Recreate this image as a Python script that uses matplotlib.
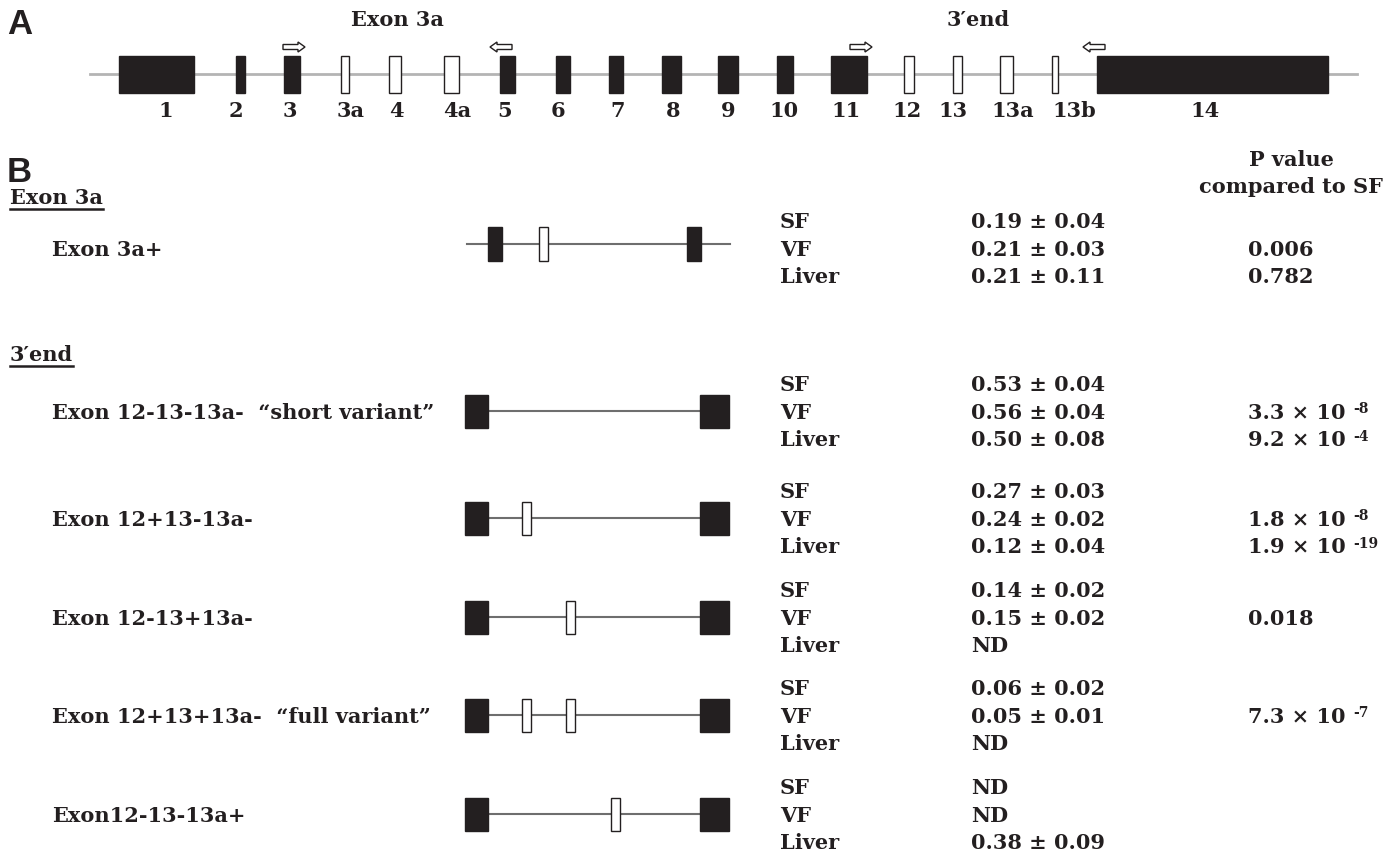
import matplotlib
matplotlib.use("Agg")
import matplotlib.pyplot as plt
from matplotlib.patches import Rectangle, FancyArrow

# ---- panel A: exon map ----
exon_names = ['1', '2', '3', '3a', '4', '4a', '5', '6', '7', '8', '9', '10',
              '11', '12', '13', '13a', '13b', '14']
exon_start = [119, 236, 284, 341, 389, 444, 500, 556, 609, 662, 718, 777,
              831, 904, 953, 1000, 1052, 1097]
exon_end = [194, 245, 300, 349, 401, 459, 515, 570, 623, 681, 738, 793,
            867, 914, 962, 1013, 1058, 1328]
exon_constitutive = [1, 1, 1, 0, 0, 0, 1, 1, 1, 1, 1, 1, 1, 0, 0, 0, 0, 1]
exon_label_x = [166, 236, 290, 351, 396, 457, 505, 558, 618, 673, 728, 784,
                846, 907, 953, 1013, 1074, 1205]

# ---- panel B: variants ----
tissues = ['SF', 'VF', 'Liver']
variant_labels = ['Exon 3a+',
                  'Exon 12-13-13a-  \u201cshort variant\u201d',
                  'Exon 12+13-13a-',
                  'Exon 12-13+13a-',
                  'Exon 12+13+13a-  \u201cfull variant\u201d',
                  'Exon12-13-13a+']
# inclusion of the optional exons (12, 13, 13a) for the 3'end variants
incl_3end = [[0, 0, 0], [1, 0, 0], [0, 1, 0], [1, 1, 0], [0, 0, 1]]
ratio_mean = [[0.19, 0.21, 0.21],
              [0.53, 0.56, 0.50],
              [0.27, 0.24, 0.12],
              [0.14, 0.15, None],
              [0.06, 0.05, None],
              [None, None, 0.38]]
ratio_sd = [[0.04, 0.03, 0.11],
            [0.04, 0.04, 0.08],
            [0.03, 0.02, 0.04],
            [0.02, 0.02, None],
            [0.02, 0.01, None],
            [None, None, 0.09]]
# p value vs SF: plain string, or (mantissa, exponent)
p_values = [[None, '0.006', '0.782'],
            [None, ('3.3', '-8'), ('9.2', '-4')],
            [None, ('1.8', '-8'), ('1.9', '-19')],
            [None, '0.018', None],
            [None, ('7.3', '-7'), None],
            [None, None, None]]

W, H = 1396, 855
fig = plt.figure(figsize=(W / 100, H / 100), dpi=100)
ax = fig.add_axes([0, 0, 1, 1])
ax.set_xlim(0, W)
ax.set_ylim(H, 0)
ax.axis('off')

serif = 'DejaVu Serif'
sans = ['Liberation Sans Narrow', 'Liberation Sans']
fs = 15
fs_val = 15
dark = '#231f20'


def label(x, y, s, ha='left', size=fs):
    return ax.text(x, y, s, fontsize=size, fontweight='bold', family=serif,
                   ha=ha, va='center', color=dark)


# ---------------- A ----------------
ax.text(7, 25, 'A', fontsize=25, fontweight='bold', family=sans,
        va='center', ha='left', color=dark)
label(397, 20, 'Exon 3a', ha='center')
label(978, 20, '3\u2032end', ha='center')

ax.plot([90, 1357], [74, 74], color='#b4b4b4', lw=2, zorder=1)
for name, x0, x1, c, lx in zip(exon_names, exon_start, exon_end,
                               exon_constitutive, exon_label_x):
    ax.add_patch(Rectangle((x0, 56), x1 - x0, 37,
                           facecolor=dark if c else 'white',
                           edgecolor=dark, lw=1, zorder=2))
    label(lx, 111, name, ha='center')

# primers
for x, d in [(283, 1), (512, -1), (850, 1), (1105, -1)]:
    ax.add_patch(FancyArrow(x, 47, 22 * d, 0, width=5, head_width=10,
                            head_length=7, length_includes_head=True,
                            facecolor='white', edgecolor=dark, lw=1, zorder=3))

# ---------------- B ----------------
ax.text(7, 173, 'B', fontsize=25, fontweight='bold', family=sans,
        va='center', ha='left', color=dark)
label(1291, 160, 'P value', ha='center')
label(1291, 187, 'compared to SF', ha='center')

headers = [label(10, 198, 'Exon 3a'), label(10, 355, '3\u2032end')]

row_y = [250, 413, 520, 619, 717, 816]
line_c = '#6e6e6e'


def draw_value_block(i, yc):
    for j, t in enumerate(tissues):
        y = yc + (j - 1) * 27.5
        label(780, y, t)
        m, s = ratio_mean[i][j], ratio_sd[i][j]
        v = 'ND' if m is None else '%.2f \u00b1 %.2f' % (m, s)
        label(971, y, v, size=fs_val)
        p = p_values[i][j]
        if p is None:
            continue
        if isinstance(p, str):
            label(1248, y, p, size=fs_val)
        else:
            t_main = label(1248, y, '%s \u00d7 10 ' % p[0], size=fs_val)
            ax.annotate(p[1], xy=(1.0, 1.02), xycoords=t_main, fontsize=10,
                        fontweight='bold', family=serif, ha='left', va='top',
                        color=dark)


# row 0: exon 3a
yc = row_y[0]
label(52, yc, variant_labels[0])
ax.plot([467, 730], [yc - 6, yc - 6], color=line_c, lw=1.5, zorder=1)
for x0, w, c in [(488, 14, 1), (539, 9, 0), (687, 14, 1)]:
    ax.add_patch(Rectangle((x0, yc - 23), w, 34,
                           facecolor=dark if c else 'white',
                           edgecolor=dark, lw=1, zorder=2))
draw_value_block(0, yc - 0.5)

# 3'end rows
opt_x = [522, 566, 611]
for k, inc in enumerate(incl_3end):
    i = k + 1
    yc = row_y[i]
    label(52, yc, variant_labels[i])
    ym = yc - 2
    ax.plot([488, 700], [ym, ym], color=line_c, lw=1.5, zorder=1)
    ax.add_patch(Rectangle((465, ym - 16.5), 23, 33, facecolor=dark,
                           edgecolor=dark, lw=1, zorder=2))
    ax.add_patch(Rectangle((700, ym - 16.5), 29, 33, facecolor=dark,
                           edgecolor=dark, lw=1, zorder=2))
    for x0, on in zip(opt_x, inc):
        if on:
            ax.add_patch(Rectangle((x0, ym - 16.5), 9, 33, facecolor='white',
                                   edgecolor=dark, lw=1, zorder=2))
    draw_value_block(i, yc - 0.5)

# underline the section headers
fig.canvas.draw()
inv = ax.transData.inverted()
r = fig.canvas.get_renderer()
for t in headers:
    bb = t.get_window_extent(r)
    (x0, y0), (x1, _) = inv.transform([(bb.x0, bb.y0), (bb.x1, bb.y1)])
    ax.plot([x0, x1], [y0 + 1, y0 + 1], color=dark, lw=1.8)

fig.savefig('out.png', dpi=100, facecolor='white')
